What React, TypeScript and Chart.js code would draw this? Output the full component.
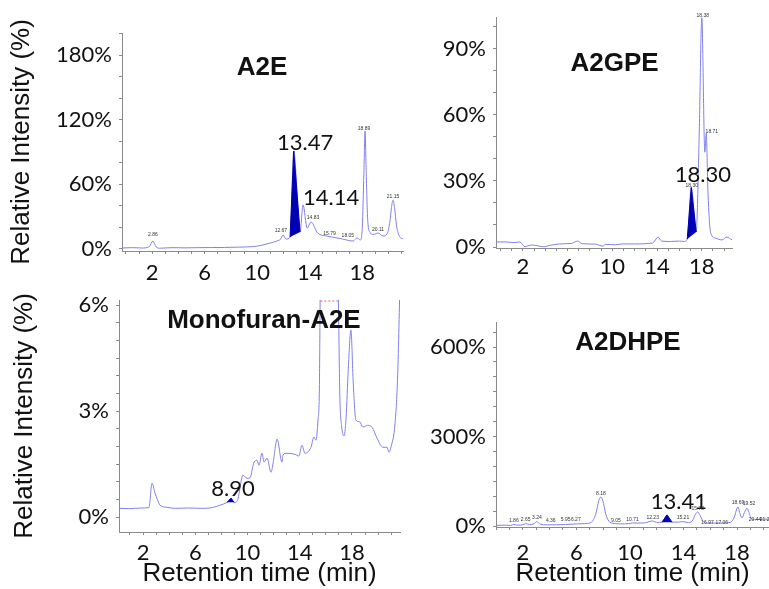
import React, { useEffect, useRef } from 'react';
import { Chart, registerables } from 'chart.js';

Chart.register(...registerables);

// ---------------- data ----------------
const xTickLabels = [2, 6, 10, 14, 18];

// A2E (top-left)
const a2eTime = [-0.3, 0.5, 1.2, 1.75, 2.06, 2.3, 2.6, 3.5, 4.5, 5.5, 6.5, 7.5, 8.5, 9.7, 10.4, 10.97, 11.5, 11.8, 11.96, 12.19, 12.5, 12.78, 13.26, 13.49, 13.8, 14.1, 14.6, 15.3, 16.0, 16.5, 17.3, 17.6, 17.85, 18.0, 18.12, 18.21, 18.3, 18.42, 18.6, 18.8, 19.2, 19.58, 19.9, 20.1, 20.22, 20.34, 20.46, 20.6, 20.8, 21.1];
const a2eIntensity = [0.5, 0.8, 0.5, 1.5, 7, 1.5, 0.3, 0.8, 0.6, 0.8, 0.9, 1.0, 1.3, 1.8, 3.2, 5, 7, 9, 12.6, 8.8, 10.7, 90.7, 15.3, 40.5, 19, 24.7, 14.4, 11.6, 10, 8.8, 7, 9.8, 8, 20, 70, 109.3, 70, 25, 15, 13, 14.4, 11.6, 14, 25, 38, 45, 38, 22, 12, 8.8];
const a2ePeakTime = [12.5, 12.78, 13.26];
const a2ePeakIntensity = [10.7, 90.7, 15.3];
const a2eYTickLabels = [0, 60, 120, 180];
const a2eLabelText = ['13.47', '14.14'];
const a2eLabelTime = [13.64, 15.62];
const a2eLabelLevel = [98, 47];
const a2eSmallText = ['2.86', '12.67', '14.83', '15.79', '18.05', '18.89', '20.11', '21.15'];
const a2eSmallTime = [2.06, 11.8, 14.25, 15.5, 16.9, 18.13, 19.2, 20.34];
const a2eSmallLevel = [12.6, 16.3, 28.4, 13.5, 11.6, 112, 17.2, 48];

// A2GPE (top-right)
const a2gpeTime = [-0.4, 0.5, 1.2, 1.73, 2.18, 2.8, 3.3, 3.79, 4.5, 5.3, 6.3, 6.9, 7.3, 8.5, 9.15, 9.4, 10.3, 10.9, 12.0, 13.6, 14.1, 14.4, 15.2, 16.0, 16.4, 16.7, 17.06, 17.5, 17.77, 18.0, 18.27, 18.4, 18.55, 18.8, 19.24, 19.8, 20.25, 20.7];
const a2gpeIntensity = [2.3, 2.3, 2.0, 2.3, 0.2, 0.9, 0.6, 0.1, 0.8, 1.4, 1.6, 2.7, 1.5, 1.3, 0.4, 1.2, 1.0, 1.4, 1.4, 1.8, 4.5, 2.7, 2.5, 2.7, 2.5, 3.6, 27, 6.8, 51.6, 104, 43, 51.6, 25, 6.3, 4, 3.2, 4.5, 3.2];
const a2gpePeakTime = [16.7, 17.06, 17.5];
const a2gpePeakIntensity = [3.6, 27, 6.8];
const a2gpeYTickLabels = [0, 30, 60, 90];
const a2gpeLabelText = ['18.30'];
const a2gpeLabelTime = [18.1];
const a2gpeLabelLevel = [32.6];
const a2gpeSmallText = ['18.38', '18.71', '18.30'];
const a2gpeSmallTime = [18.09, 18.9, 17.1];
const a2gpeSmallLevel = [105, 52.5, 28];

// Monofuran-A2E (bottom-left)
const monoTime = [0.2, 1.0, 1.8, 2.45, 2.69, 2.92, 3.1, 3.3, 3.8, 4.5, 5.5, 6.5, 7.13, 7.9, 8.44, 8.74, 8.97, 9.2, 9.66, 9.97, 10.2, 10.5, 10.73, 10.88, 11.11, 11.27, 11.5, 11.8, 11.96, 12.27, 12.64, 12.72, 13.02, 13.64, 13.94, 14.17, 14.4, 14.86, 15.09, 15.24, 15.4, 15.5, 15.6, 16.9, 17.08, 17.2, 17.39, 17.55, 17.72, 17.92, 18.1, 18.3, 18.6, 18.84, 19.2, 19.53, 19.92, 20.37, 20.68, 20.83, 21.0, 21.3, 21.5, 21.7];
const monoIntensity = [0.25, 0.24, 0.26, 0.27, 0.96, 0.68, 0.5, 0.34, 0.28, 0.25, 0.26, 0.25, 0.26, 0.34, 0.42, 0.51, 0.42, 0.45, 1.19, 1.1, 1.12, 1.56, 1.61, 1.47, 1.81, 1.56, 1.67, 1.27, 1.53, 2.21, 1.56, 1.76, 1.81, 1.78, 1.73, 2.04, 1.81, 1.98, 2.27, 2.18, 2.75, 3.5, 7, 7, 3.3, 2.6, 2.3, 2.8, 4.2, 5.3, 3.8, 2.75, 2.7, 2.55, 2.6, 2.55, 2.24, 1.98, 1.98, 1.84, 2.0, 2.66, 4.0, 7];
const monoPeakTime = [8.44, 8.74, 8.97];
const monoPeakIntensity = [0.42, 0.54, 0.42];
const monoClipTime = [15.58, 16.92];
const monoYTickLabels = [0, 3, 6];
const monoLabelText = ['8.90'];
const monoLabelTime = [8.89];
const monoLabelLevel = [0.79];

// A2DHPE (bottom-right)
const a2dhpeTime = [0.0, 0.7, 1.1, 1.33, 1.6, 2.0, 2.22, 2.5, 2.85, 3.05, 3.3, 3.8, 4.5, 5.2, 5.96, 6.6, 7.1, 7.45, 7.68, 7.83, 7.98, 8.2, 8.5, 8.95, 9.6, 10.2, 11.0, 11.7, 12.0, 12.4, 12.77, 13.15, 13.6, 13.96, 14.4, 14.7, 14.9, 15.07, 15.25, 15.5, 15.8, 16.9, 17.5, 17.8, 18.0, 18.08, 18.2, 18.37, 18.55, 18.75, 18.9, 19.1, 19.5, 20.0, 20.4];
const a2dhpeIntensity = [2, 3, 2, 5, 3, 4, 8, 5, 8, 15, 6, 4, 4, 5, 7, 8, 12, 40, 85, 97, 85, 40, 13, 8, 7, 10, 10, 17, 12, 13, 37, 13, 13, 15, 11, 20, 40, 47, 35, 14, 10, 10, 12, 30, 60, 64, 45, 27, 45, 60, 45, 23, 22, 23, 23];
const a2dhpePeakTime = [12.4, 12.77, 13.15];
const a2dhpePeakIntensity = [13, 37, 13];
const a2dhpeYTickLabels = [0, 300, 600];
const a2dhpeLabelText = ['13.41'];
const a2dhpeLabelTime = [13.66];
const a2dhpeLabelLevel = [80];
const a2dhpeSmallText = ['1.86', '2.65', '3.24', '4.36', '5.95', '6.27', '8.18', '9.05', '10.71', '12.23', '15.21', '15.78', '16.97', '17.06', '18.69', '19.52', '20.44', '21.29'];
const a2dhpeSmallTime = [1.33, 2.22, 3.05, 4.09, 5.2, 5.96, 7.83, 8.95, 10.2, 11.7, 13.96, 15.07, 15.8, 16.87, 18.07, 18.9, 19.35, 20.17];
const a2dhpeSmallLevel = [17, 20, 27, 17, 20, 20, 107, 17, 20, 27, 27, 57, 13, 13, 77, 74, 20, 20];

// ---------------- styling ----------------
const TRACE = 'rgb(128,128,236)';
const FILL = 'rgb(0,0,180)';
const AXIS = '#8a8a8a';
const INK = '#111';
const TICK_FONT = { family: 'Lato', size: 22 };
const AXIS_TITLE_FONT = { family: '"Liberation Sans", Arial, sans-serif', size: 26 };
const PANEL_TITLE_FONT = 'bold 26px "Liberation Sans", Arial, sans-serif';
const PEAK_FONT = '22px Lato, sans-serif';
const SMALL_FONT = '5px "Liberation Sans", Arial, sans-serif';

type TextItem = { text: string; x: number; y: number; font: string; color?: string };

const pts = (xs: number[], ys: number[]) => xs.map((x, i) => ({ x, y: ys[i] }));
const range = (a: number, b: number, step: number) => {
  const out: number[] = [];
  for (let i = 0; a + i * step <= b + 1e-9; i++) out.push(Math.round((a + i * step) * 1000) / 1000);
  return out;
};
const items = (texts: string[], xs: number[], ys: number[], font: string, color?: string): TextItem[] =>
  texts.map((t, i) => ({ text: t, x: xs[i], y: ys[i], font, color }));

const traceDs = (xs: number[], ys: number[]) => ({
  data: pts(xs, ys),
  borderColor: TRACE,
  borderWidth: 1,
  pointRadius: 0,
  fill: false,
  cubicInterpolationMode: 'monotone',
});
const peakDs = (xs: number[], ys: number[]) => ({
  data: pts(xs, ys),
  borderColor: FILL,
  backgroundColor: FILL,
  borderWidth: 1,
  pointRadius: 0,
  fill: 'shape',
  tension: 0,
});

interface PanelCfg {
  left: number; top: number; width: number; height: number;
  padTop: number; padRight: number;
  yWidth: number; xHeight: number;
  xMin: number; xMax: number; yMin: number; yMax: number;
  yTicks: number[]; yLabels: number[]; xLabelPad: number;
  yTitle: boolean; yTitlePad: number; xTitle: boolean;
  datasets: any[]; texts: TextItem[];
}

const xMinor = range(0, 21, 1);

const panels: PanelCfg[] = [
  {
    left: 0, top: 0, width: 410, height: 290, padTop: 33, padRight: 7,
    yWidth: 122, xHeight: 39, xMin: -0.3, xMax: 21.1, yMin: -2.3, yMax: 200.5,
    yTicks: range(0, 200, 20), yLabels: a2eYTickLabels, xLabelPad: 6,
    yTitle: true, yTitlePad: 6, xTitle: false,
    datasets: [peakDs(a2ePeakTime, a2ePeakIntensity), traceDs(a2eTime, a2eIntensity)],
    texts: [
      { text: 'A2E', x: 10.36, y: 168, font: PANEL_TITLE_FONT },
      ...items(a2eLabelText, a2eLabelTime, a2eLabelLevel, PEAK_FONT),
      ...items(a2eSmallText, a2eSmallTime, a2eSmallLevel, SMALL_FONT, '#333'),
    ],
  },
  {
    left: 410, top: 0, width: 359, height: 290, padTop: 17, padRight: 37,
    yWidth: 86, xHeight: 42, xMin: -0.4, xMax: 20.7, yMin: -0.45, yMax: 104.3,
    yTicks: range(0, 100, 10), yLabels: a2gpeYTickLabels, xLabelPad: 3,
    yTitle: false, yTitlePad: 0, xTitle: false,
    datasets: [peakDs(a2gpePeakTime, a2gpePeakIntensity), traceDs(a2gpeTime, a2gpeIntensity)],
    texts: [
      { text: 'A2GPE', x: 10.2, y: 83, font: PANEL_TITLE_FONT },
      ...items(a2gpeLabelText, a2gpeLabelTime, a2gpeLabelLevel, PEAK_FONT),
      ...items(a2gpeSmallText, a2gpeSmallTime, a2gpeSmallLevel, SMALL_FONT, '#333'),
    ],
  },
  {
    left: 0, top: 290, width: 410, height: 299, padTop: 10, padRight: 10,
    yWidth: 119, xHeight: 57, xMin: 0.16, xMax: 21.68, yMin: -0.42, yMax: 6.15,
    yTicks: range(0, 6, 0.5), yLabels: monoYTickLabels, xLabelPad: 5,
    yTitle: true, yTitlePad: 9, xTitle: true,
    datasets: [
      peakDs(monoPeakTime, monoPeakIntensity),
      {
        data: monoClipTime.map((x) => ({ x, y: 6.12 })),
        borderColor: 'rgb(235,90,90)', borderWidth: 1, borderDash: [2, 2], pointRadius: 0, fill: false,
      },
      traceDs(monoTime, monoIntensity),
    ],
    texts: [
      { text: 'Monofuran-A2E', x: 11.26, y: 5.55, font: PANEL_TITLE_FONT },
      ...items(monoLabelText, monoLabelTime, monoLabelLevel, PEAK_FONT),
    ],
  },
  {
    left: 410, top: 290, width: 359, height: 299, padTop: 32, padRight: 0,
    yWidth: 86, xHeight: 62, xMin: 0, xMax: 20.39, yMin: -3.3, yMax: 684,
    yTicks: range(0, 650, 50), yLabels: a2dhpeYTickLabels, xLabelPad: 10,
    yTitle: false, yTitlePad: 0, xTitle: true,
    datasets: [peakDs(a2dhpePeakTime, a2dhpePeakIntensity), traceDs(a2dhpeTime, a2dhpeIntensity)],
    texts: [
      { text: 'A2DHPE', x: 9.85, y: 613, font: PANEL_TITLE_FONT },
      ...items(a2dhpeLabelText, a2dhpeLabelTime, a2dhpeLabelLevel, PEAK_FONT),
      ...items(a2dhpeSmallText, a2dhpeSmallTime, a2dhpeSmallLevel, SMALL_FONT, '#333'),
    ],
  },
];

const makeTextPlugin = (texts: TextItem[]) => ({
  id: 'panelText',
  afterDatasetsDraw(chart: any) {
    const { ctx } = chart;
    const xs = chart.scales.x;
    const ys = chart.scales.y;
    ctx.save();
    ctx.textAlign = 'center';
    ctx.textBaseline = 'middle';
    texts.forEach((t) => {
      ctx.font = t.font;
      ctx.fillStyle = t.color || INK;
      ctx.fillText(t.text, xs.getPixelForValue(t.x), ys.getPixelForValue(t.y));
    });
    ctx.restore();
  },
});

function Panel({ cfg }: { cfg: PanelCfg }) {
  const ref = useRef<HTMLCanvasElement | null>(null);
  useEffect(() => {
    if (!ref.current) return;
    const chart = new Chart(ref.current, {
      type: 'line',
      data: { datasets: cfg.datasets },
      plugins: [makeTextPlugin(cfg.texts)],
      options: {
        responsive: false,
        animation: false,
        events: [],
        parsing: true,
        layout: { padding: { top: cfg.padTop, right: cfg.padRight, bottom: 0, left: 0 } },
        plugins: { legend: { display: false }, tooltip: { enabled: false } },
        scales: {
          x: {
            type: 'linear',
            min: cfg.xMin,
            max: cfg.xMax,
            afterBuildTicks: (s: any) => {
              s.ticks = xMinor.filter((v) => v >= cfg.xMin && v <= cfg.xMax).map((v) => ({ value: v }));
            },
            afterFit: (s: any) => {
              s.height = cfg.xHeight;
              s.paddingLeft = 0;
              s.paddingRight = 0;
            },
            ticks: {
              autoSkip: false,
              maxRotation: 0,
              padding: cfg.xLabelPad,
              font: TICK_FONT,
              color: INK,
              callback: (v: any) => (xTickLabels.includes(Number(v)) ? String(v) : ''),
            },
            grid: { drawOnChartArea: false, drawTicks: true, tickLength: 3, color: AXIS },
            border: { color: AXIS, width: 1 },
            title: {
              display: cfg.xTitle,
              text: 'Retention time (min)',
              font: AXIS_TITLE_FONT,
              color: INK,
              padding: { top: 0, bottom: 0 },
            },
          },
          y: {
            type: 'linear',
            min: cfg.yMin,
            max: cfg.yMax,
            afterBuildTicks: (s: any) => {
              s.ticks = cfg.yTicks.map((v) => ({ value: v }));
            },
            afterFit: (s: any) => {
              s.width = cfg.yWidth;
              s.paddingTop = 0;
              s.paddingBottom = 0;
            },
            ticks: {
              autoSkip: false,
              padding: 7,
              font: TICK_FONT,
              color: INK,
              callback: (v: any) => (cfg.yLabels.includes(Number(v)) ? `${v}%` : ''),
            },
            grid: { drawOnChartArea: false, drawTicks: true, tickLength: 3, color: AXIS },
            border: { color: AXIS, width: 1 },
            title: {
              display: cfg.yTitle,
              text: 'Relative Intensity (%)',
              font: AXIS_TITLE_FONT,
              color: INK,
              padding: { top: cfg.yTitlePad, bottom: 0 },
            },
          },
        },
      } as any,
    });
    return () => chart.destroy();
  }, [cfg]);
  return (
    <canvas
      ref={ref}
      width={cfg.width}
      height={cfg.height}
      style={{ position: 'absolute', left: cfg.left, top: cfg.top, width: cfg.width, height: cfg.height }}
    />
  );
}

export default function App() {
  return (
    <div style={{ position: 'fixed', left: 0, top: 0, width: 769, height: 589, background: '#fff', overflow: 'hidden' }}>
      {panels.map((p, i) => (
        <Panel key={i} cfg={p} />
      ))}
    </div>
  );
}
